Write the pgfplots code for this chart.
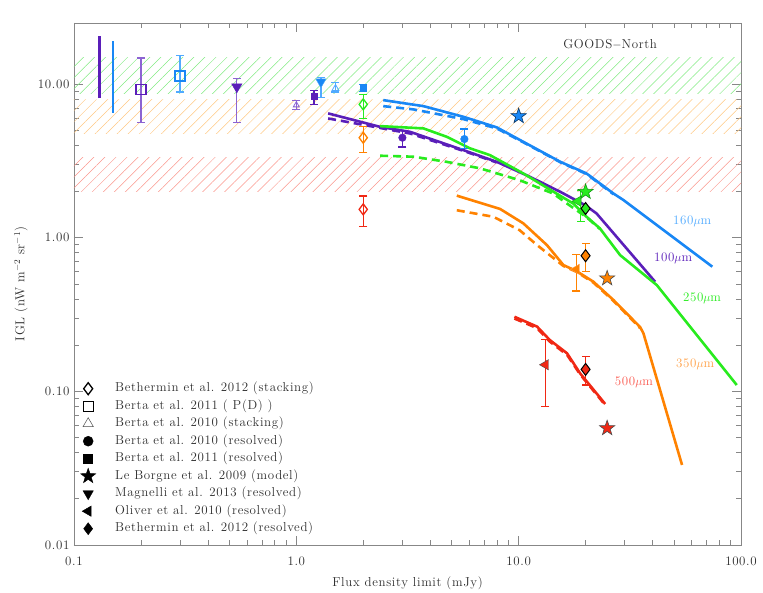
\documentclass[border=0pt]{standalone}
\usepackage{fontspec}
\setmainfont{Latin Modern Roman}[LetterSpace=5]
\usepackage{pgfplots}
\pgfplotsset{compat=1.18}
\usetikzlibrary{patterns.meta}
\definecolor{cP}{RGB}{90,30,185}
\definecolor{cPl}{RGB}{140,100,210}
\definecolor{cB}{RGB}{25,135,245}
\definecolor{cBl}{RGB}{80,170,255}
\definecolor{cG}{RGB}{40,235,30}
\definecolor{cGd}{RGB}{20,150,20}
\definecolor{cO}{RGB}{255,130,0}
\definecolor{cOl}{RGB}{255,160,70}
\definecolor{cR}{RGB}{240,40,20}
\definecolor{cRl}{RGB}{250,90,80}
\definecolor{hG}{RGB}{130,235,130}
\definecolor{hO}{RGB}{255,200,130}
\definecolor{hR}{RGB}{250,150,140}
\definecolor{axgray}{RGB}{135,135,135}
\definecolor{txt}{RGB}{45,45,45}
\pgfdeclareplotmark{fstar}{%
  \pgfpathmoveto{\pgfpointpolar{90}{\pgfplotmarksize}}%
  \pgfpathlineto{\pgfpointpolar{126}{0.4\pgfplotmarksize}}%
  \pgfpathlineto{\pgfpointpolar{162}{\pgfplotmarksize}}%
  \pgfpathlineto{\pgfpointpolar{198}{0.4\pgfplotmarksize}}%
  \pgfpathlineto{\pgfpointpolar{234}{\pgfplotmarksize}}%
  \pgfpathlineto{\pgfpointpolar{270}{0.4\pgfplotmarksize}}%
  \pgfpathlineto{\pgfpointpolar{306}{\pgfplotmarksize}}%
  \pgfpathlineto{\pgfpointpolar{342}{0.4\pgfplotmarksize}}%
  \pgfpathlineto{\pgfpointpolar{18}{\pgfplotmarksize}}%
  \pgfpathlineto{\pgfpointpolar{54}{0.4\pgfplotmarksize}}%
  \pgfpathclose
  \pgfusepathqfillstroke
}
\newcommand{\fs}{\fontsize{13}{15}\selectfont}
\begin{document}
\begin{tikzpicture}
\begin{axis}[
  xmode=log, ymode=log,
  scale only axis, width=667bp, height=522bp,
  xmin=0.1, xmax=100, ymin=0.01, ymax=25,
  xtick={0.1,1,10,100}, xticklabels={0.1,1.0,10.0,100.0},
  ytick={0.01,0.1,1,10}, yticklabels={0.01,0.10,1.00,10.00},
  axis line style={axgray, line width=0.8bp},
  every tick/.style={axgray, line width=0.7bp},
  major tick length=9bp, minor tick length=5bp,
  tick label style={text=txt, font=\fs},
  xticklabel style={yshift=-8bp},
  yticklabel style={xshift=-1bp},
  every axis x label/.style={at={(rel axis cs:0.5,0)}, anchor=center, yshift=-38bp},
  every axis y label/.style={at={(rel axis cs:0,0.5)}, anchor=center, xshift=-53bp, rotate=90},
  label style={text=txt, font=\fs},
  xlabel={Flux density limit (mJy)},
  ylabel={IGL (nW m$^{-2}$ sr$^{-1}$)},
  legend style={draw=none, fill=none, at={(rel axis cs:0,0)}, anchor=north west,
    xshift=7bp, yshift=162bp, inner sep=0pt, row sep=6.5bp,
    nodes={inner sep=0pt, text height=8.5bp, text depth=2.5bp, text=txt, font=\fs}},
  legend cell align=left,
  legend image code/.code={\begin{pgfinterruptboundingbox}\draw[#1] plot coordinates {(0bp,0bp)};\end{pgfinterruptboundingbox}\path[draw=none,fill=none] (-7bp,-5bp) rectangle (7bp,5bp);},
  /tikz/every odd column/.append style={column sep=20bp},
]
% ---- legend (black markers)
\addlegendimage{only marks, black, line width=1.3bp, mark=diamond, mark size=6bp}
\addlegendentry{Bethermin et al. 2012 (stacking)}
\addlegendimage{only marks, black, line width=1.3bp, mark=square, mark size=5bp}
\addlegendentry{Berta et al. 2011 ( P(D) )}
\addlegendimage{only marks, black!70, line width=0.5bp, mark=triangle, mark size=6bp}
\addlegendentry{Berta et al. 2010 (stacking)}
\addlegendimage{only marks, black, mark=*, mark size=5bp}
\addlegendentry{Berta et al. 2010 (resolved)}
\addlegendimage{only marks, black, mark=square*, mark size=4.5bp}
\addlegendentry{Berta et al. 2011 (resolved)}
\addlegendimage{only marks, black, mark=fstar, mark size=8bp}
\addlegendentry{Le Borgne et al. 2009 (model)}
\addlegendimage{only marks, black, mark=triangle*, mark size=6bp, mark options={rotate=180}}
\addlegendentry{Magnelli et al. 2013 (resolved)}
\addlegendimage{only marks, black, mark=triangle*, mark size=6bp, mark options={rotate=90}}
\addlegendentry{Oliver et al. 2010 (resolved)}
\addlegendimage{only marks, black, mark=diamond*, mark size=6bp}
\addlegendentry{Bethermin et al. 2012 (resolved)}

% ---- hatched bands
\addplot[draw=none, pattern={Lines[angle=45,distance=7.8bp,line width=0.5bp]}, pattern color=hG]
  coordinates {(0.1,8.7) (100,8.7) (100,14.8) (0.1,14.8)} -- cycle;
\addplot[draw=none, pattern={Lines[angle=45,distance=7.8bp,line width=0.5bp]}, pattern color=hO]
  coordinates {(0.1,4.8) (100,4.8) (100,8.0) (0.1,8.0)} -- cycle;
\addplot[draw=none, pattern={Lines[angle=45,distance=7.8bp,line width=0.5bp]}, pattern color=hR]
  coordinates {(0.1,2.0) (100,2.0) (100,3.35) (0.1,3.35)} -- cycle;

% ---- vertical bars (total)
\addplot[cP, line width=2.6bp] coordinates {(0.13,8.1) (0.13,20.6)};
\addplot[cB, line width=2.6bp] coordinates {(0.15,6.5) (0.15,19.0)};

% ---- model curves
% 160 um
\addplot[cB, line width=2.6bp] coordinates {(2.46,7.87) (3.73,7.19) (5.64,6.13) (7.97,5.23) (10.5,4.21) (15.4,3.12) (20.2,2.62) (26.7,1.94) (29.6,1.76) (74.3,0.648)};
\addplot[cB, line width=2.6bp, dash pattern=on 8bp off 5bp] coordinates {(2.46,7.19) (3.36,6.85) (5.64,5.92) (7.97,5.15) (10.5,4.18) (15.4,3.10) (20.2,2.60) (26.7,1.92)};
% 100 um
\addplot[cP, line width=2.6bp] coordinates {(1.39,6.45) (2.38,5.27) (3.25,4.89) (5.64,3.72) (7.97,3.12) (11.25,2.49) (15.4,1.99) (19.9,1.63) (22.4,1.44) (41.1,0.517)};
\addplot[cP, line width=2.6bp, dash pattern=on 8bp off 5bp] coordinates {(1.39,5.98) (2.15,5.33) (3.25,4.77) (5.64,3.68) (7.97,3.09)};
% 250 um
\addplot[cG, line width=2.6bp] coordinates {(2.38,5.33) (3.73,5.15) (4.75,4.54) (6.04,3.82) (7.43,3.45) (10.5,2.62) (14.8,1.94) (17.6,1.67) (20.2,1.37) (23.2,1.15) (28.6,0.771) (41.8,0.492) (95.7,0.110)};
\addplot[cG, line width=2.6bp, dash pattern=on 8bp off 5bp] coordinates {(2.38,3.42) (3.36,3.37) (4.75,3.12) (6.70,2.83) (10.1,2.37) (14.3,1.94) (16.5,1.67) (20.2,1.36) (23.2,1.14)};
% 350 um
\addplot[cO, line width=2.6bp] coordinates {(5.27,1.88) (8.25,1.54) (10.5,1.24) (13.4,0.896) (15.9,0.664) (18.2,0.607) (21.7,0.517) (26.7,0.393) (35.2,0.262) (36.4,0.239) (54.3,0.0332)};
\addplot[cO, line width=2.6bp, dash pattern=on 8bp off 5bp] coordinates {(5.27,1.51) (7.69,1.37) (10.1,1.12) (12.1,0.896) (15.9,0.655) (18.2,0.600) (21.7,0.510) (26.7,0.388) (35.2,0.258)};
% 500 um
\addplot[cR, line width=2.6bp] coordinates {(9.57,0.306) (12.1,0.264) (13.8,0.216) (16.5,0.177) (18.9,0.131) (24.5,0.0828)};
\addplot[cR, line width=2.6bp, dash pattern=on 8bp off 5bp] coordinates {(9.57,0.298) (12.1,0.258) (13.8,0.211) (16.5,0.173) (18.9,0.129) (24.5,0.0815)};

% ---- error bars
\addplot[cPl, line width=1.2bp, mark=-, mark size=4bp] coordinates {(0.2,5.66) (0.2,14.8)};
\addplot[cBl, line width=1.2bp, mark=-, mark size=4bp] coordinates {(0.3,8.9) (0.3,15.3)};
\addplot[cPl, line width=1.2bp, mark=-, mark size=4bp] coordinates {(0.54,5.64) (0.54,10.9)};
\addplot[cPl, line width=1.2bp, mark=-, mark size=4bp] coordinates {(1.0,6.85) (1.0,7.78)};
\addplot[cP, line width=1.2bp, mark=-, mark size=4bp] coordinates {(1.2,7.38) (1.2,9.14)};
\addplot[cBl, line width=1.2bp, mark=-, mark size=4bp] coordinates {(1.29,8.2) (1.29,11.05)};
\addplot[cBl, line width=1.2bp, mark=-, mark size=4bp] coordinates {(1.5,8.9) (1.5,10.26)};
\addplot[cB, line width=1.2bp, mark=-, mark size=4bp] coordinates {(2.0,9.0) (2.0,10.0)};
\addplot[cG, line width=1.2bp, mark=-, mark size=4bp] coordinates {(2.0,5.98) (2.0,8.6)};
\addplot[cO, line width=1.2bp, mark=-, mark size=4bp] coordinates {(2.0,3.57) (2.0,5.33)};
\addplot[cR, line width=1.2bp, mark=-, mark size=4bp] coordinates {(2.0,1.19) (2.0,1.87)};
\addplot[cP, line width=1.2bp, mark=-, mark size=4bp] coordinates {(3.0,3.9) (3.0,5.02)};
\addplot[cB, line width=1.2bp, mark=-, mark size=4bp] coordinates {(5.7,3.82) (5.7,5.1)};
\addplot[cG, line width=1.2bp, mark=-, mark size=4bp] coordinates {(19.0,1.27) (19.0,2.04)};
\addplot[cO, line width=1.2bp, mark=-, mark size=4bp] coordinates {(20,0.606) (20,0.92)};
\addplot[cO, line width=1.2bp, mark=-, mark size=4bp] coordinates {(18.2,0.45) (18.2,0.777)};
\addplot[cR, line width=1.2bp, mark=-, mark size=4bp] coordinates {(13.2,0.080) (13.2,0.217)};
\addplot[cR, line width=1.2bp, mark=-, mark size=4bp] coordinates {(20,0.11) (20,0.168)};

% ---- markers
\addplot[only marks, cP, line width=1.2bp, mark=square, mark size=5bp] coordinates {(0.2,9.27)};
\addplot[only marks, cB, line width=1.2bp, mark=square, mark size=5bp] coordinates {(0.3,11.3)};
\addplot[only marks, cP, mark=triangle*, mark size=6bp, mark options={rotate=180}] coordinates {(0.54,9.6)};
\addplot[only marks, cB, mark=triangle*, mark size=6bp, mark options={rotate=180, fill=cB, draw=cBl}] coordinates {(1.29,10.35)};
\addplot[only marks, cPl, line width=0.8bp, mark=triangle, mark size=3.5bp] coordinates {(1.0,7.3)};
\addplot[only marks, cBl, line width=0.8bp, mark=triangle, mark size=4bp] coordinates {(1.5,9.37)};
\addplot[only marks, cP, mark=square*, mark size=3bp] coordinates {(1.2,8.35)};
\addplot[only marks, cB, mark=square*, mark size=3bp] coordinates {(2.0,9.46)};
\addplot[only marks, cP, mark=*, mark size=3.8bp] coordinates {(3.0,4.48)};
\addplot[only marks, cB, mark=*, mark size=3.8bp] coordinates {(5.7,4.39)};
\addplot[only marks, cG, line width=1.3bp, mark=diamond, mark size=5.5bp] coordinates {(2.0,7.38)};
\addplot[only marks, cO, line width=1.3bp, mark=diamond, mark size=5.5bp] coordinates {(2.0,4.48)};
\addplot[only marks, cR, line width=1.3bp, mark=diamond, mark size=5.5bp] coordinates {(2.0,1.53)};
\addplot[only marks, mark=triangle*, mark size=6bp, mark options={rotate=90, fill=cG, draw=cGd}] coordinates {(18.5,1.73)};
\addplot[only marks, mark=triangle*, mark size=6bp, mark options={rotate=90, fill=cO, draw=cOl}] coordinates {(18.2,0.623)};
\addplot[only marks, mark=triangle*, mark size=6bp, mark options={rotate=90, fill=cR, draw=black!70}] coordinates {(13.2,0.149)};
\addplot[only marks, mark=diamond*, mark size=6bp, mark options={fill=cG, draw=black, line width=1bp}] coordinates {(20,1.55)};
\addplot[only marks, mark=diamond*, mark size=6bp, mark options={fill=cO, draw=black, line width=1bp}] coordinates {(20,0.764)};
\addplot[only marks, mark=diamond*, mark size=6bp, mark options={fill=cR, draw=black, line width=1bp}] coordinates {(20,0.139)};
\addplot[only marks, mark=fstar, mark size=8bp, mark options={fill=cB, draw=black!60!cB, line width=0.6bp}] coordinates {(10,6.19)};
\addplot[only marks, mark=fstar, mark size=8bp, mark options={fill=cG, draw=cGd, line width=0.6bp}] coordinates {(20,1.99)};
\addplot[only marks, mark=fstar, mark size=8bp, mark options={fill=cO, draw=black!70, line width=0.6bp}] coordinates {(25,0.544)};
\addplot[only marks, mark=fstar, mark size=8bp, mark options={fill=cR, draw=black!70, line width=0.6bp}] coordinates {(25,0.0576)};

% ---- text labels
\node[text=cBl, font=\fs] at (axis cs:60.3,1.28) {160$\mu$m};
\node[text=cP, font=\fs] at (axis cs:49.5,0.738) {100$\mu$m};
\node[text=cG, font=\fs] at (axis cs:66.8,0.406) {250$\mu$m};
\node[text=cOl, font=\fs] at (axis cs:62.2,0.151) {350$\mu$m};
\node[text=cRl, font=\fs] at (axis cs:33.0,0.115) {500$\mu$m};
\node[text=txt, font=\fs] at (axis cs:25.8,18.2) {GOODS$-$North};

\coordinate (bl) at (rel axis cs:0,0);
\coordinate (tr) at (rel axis cs:1,1);
\end{axis}
\path (bl) ++(-74bp,-48bp) coordinate (A);
\path (tr) ++(22bp,23bp) coordinate (B);
\path (A) rectangle (B);
\end{tikzpicture}
\end{document}
